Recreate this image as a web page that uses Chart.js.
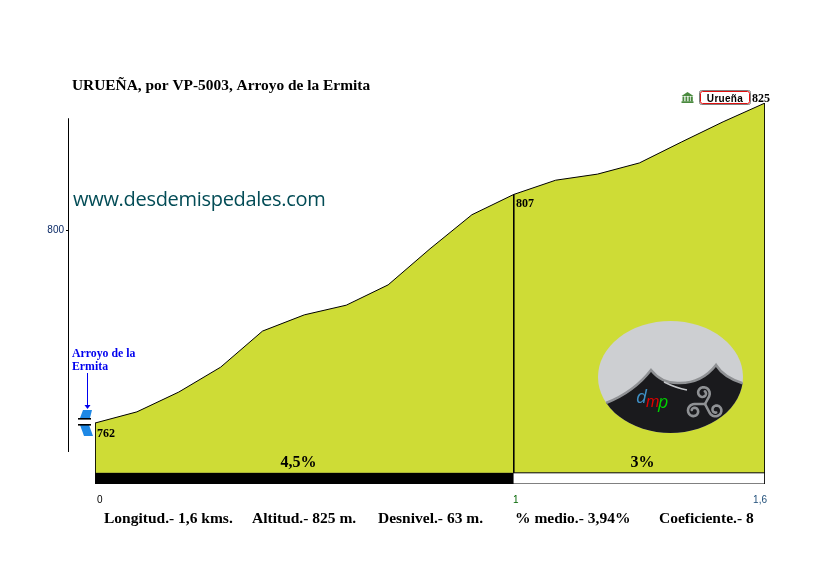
<!DOCTYPE html>
<html><head><meta charset="utf-8">
<style>html,body{margin:0;padding:0;background:#fff}#w{position:absolute;left:0;top:0;width:837px;height:566px}</style>
<script src="https://cdn.jsdelivr.net/npm/chart.js@4"></script>
</head><body><div id="w"><canvas id="c" width="837" height="566"></canvas></div>
<script>
const distances=[0,0.1,0.2,0.3,0.4,0.5,0.6,0.7,0.8,0.9,1,1.1,1.2,1.3,1.4,1.5,1.6];
const altitudes=[762,764.2,768.1,773,780.1,783.3,785.2,789.2,796.3,803,807,809.8,811,813.2,817.3,821.3,825];
const xTicks=[0,1,1.6];
const xTickColors=['#000000','#006400','#1f4e79'];
const yTicks=[800];
const sectionBreaks=[0,1,1.6];
const sectionLabels=['4,5%','3%'];
const altitudeLabels=['762','807','825'];
const footerLabels=['Longitud.- 1,6 kms.','Altitud.- 825 m.','Desnivel.- 63 m.','% medio.- 3,94%','Coeficiente.- 8'];
const titleText='URUEÑA, por VP-5003, Arroyo de la Ermita';
const siteText='www.desdemispedales.com';
const baseAlt=752.2, stripAlt=750, topAlt=825;
const axisFrom=756.3, axisTo=822;
const lime='#cedc36';
const pts=distances.map((x,i)=>({x,y:altitudes[i]}));
const seg=(x0,y0,x1,y1,c)=>({order:-1,data:[{x:x0,y:y0},{x:x1,y:y1}],borderColor:c||'#000',borderWidth:1,pointRadius:0,fill:false,tension:0});
const over={id:'over',afterDraw(ch){
 const c=ch.ctx,X=ch.scales.x,Y=ch.scales.y;
 const serif='"Liberation Serif"';
 const T=(s,x,y,f,col,al)=>{c.font=f;c.fillStyle=col||'#000';c.textAlign=al||'left';c.textBaseline='alphabetic';c.fillText(s,x,y);};
 c.save();
 c.strokeStyle='#000';c.lineWidth=1;c.beginPath();
 c.moveTo(68.5,Y.getPixelForValue(axisTo));c.lineTo(68.5,Y.getPixelForValue(axisFrom));
 const ty=Math.round(Y.getPixelForValue(yTicks[0]))+.5;
 c.moveTo(66,ty);c.lineTo(68,ty);c.stroke();
 T(titleText,72,90,'bold 15.4px '+serif);
 c.save();c.letterSpacing='-0.3px';T(siteText,73,206,'20px "Open Sans"','#034c56');c.restore();
 T(altitudeLabels[0],97,437,'bold 12px '+serif);
 T(altitudeLabels[1],516,207,'bold 12px '+serif);
 T(altitudeLabels[2],752,102,'bold 12px '+serif);
 for(let i=0;i<sectionLabels.length;i++){
  const mid=(X.getPixelForValue(sectionBreaks[i])+X.getPixelForValue(sectionBreaks[i+1]))/2;
  T(sectionLabels[i],mid+(i?3:-6),467,'bold 16px '+serif,'#000','center');
 }
 [104,252,378,515,659].forEach((x,i)=>T(footerLabels[i],x,523,'bold 15.5px '+serif));
 T('Arroyo de la',72,357,'bold 11.8px '+serif,'#0000ee');
 T('Ermita',72,370,'bold 11.8px '+serif,'#0000ee');
 c.strokeStyle='#0000ee';c.lineWidth=1;c.beginPath();c.moveTo(87.5,373);c.lineTo(87.5,406);c.stroke();
 c.fillStyle='#0000ee';c.beginPath();c.moveTo(84.5,405);c.lineTo(90.5,405);c.lineTo(87.5,409);c.fill();
 c.fillStyle='#1e88e5';
 c.beginPath();c.moveTo(83,410);c.lineTo(92,410);c.lineTo(90,418);c.lineTo(80,418);c.fill();
 c.beginPath();c.moveTo(80,425);c.lineTo(89,425);c.lineTo(93,436);c.lineTo(84,436);c.fill();
 c.fillStyle='#000';c.fillRect(78,418,13,1.6);c.fillRect(78,424,13,1.6);
 c.fillStyle='#4a8a3f';
 c.beginPath();c.moveTo(681.5,96);c.lineTo(687.5,92);c.lineTo(693.5,96);c.fill();
 [682.5,685.5,688.5,691].forEach(x=>c.fillRect(x,96.5,1.8,5));
 c.fillRect(681.5,101.3,12,1.7);
 c.strokeStyle='#808080';c.lineWidth=1;c.beginPath();c.roundRect(699.5,90.5,51,14,2);c.stroke();
 c.strokeStyle='#e01010';c.beginPath();c.roundRect(700.5,91.5,49,12,2);c.stroke();
 c.save();c.letterSpacing='0.3px';T('Urueña',725,101.5,'bold 10px "Liberation Sans"','#000','center');c.restore();
 c.save();
 c.beginPath();c.ellipse(670.5,377,72.5,56,0,0,Math.PI*2);c.fillStyle='#cdcfd2';c.fill();c.clip();
 c.beginPath();c.moveTo(590,407);c.lineTo(606,403);c.quadraticCurveTo(634,392,651,370);
 c.quadraticCurveTo(662,384,680,383);c.quadraticCurveTo(702,383,716,365);
 c.quadraticCurveTo(724,378,745,384);c.lineTo(750,440);c.lineTo(590,440);c.closePath();
 c.fillStyle='#1a1a1d';c.fill();c.strokeStyle='#8f9194';c.lineWidth=2.5;c.stroke();
 c.strokeStyle='#c4c6c9';c.lineWidth=1.5;c.beginPath();c.moveTo(664,382);c.quadraticCurveTo(676,388,687,390);c.stroke();
 c.textAlign='left';
 c.font='italic 19px "Open Sans"';c.fillStyle='#3f8fc4';c.fillText('d',636,403);
 c.font='italic 16px "Liberation Sans"';c.fillStyle='#e00000';c.fillText('m',646,407);
 c.font='italic 18px "Open Sans"';c.fillStyle='#00d000';c.fillText('p',658,408);
 c.strokeStyle='#8f9194';c.lineWidth=2.6;c.lineCap='round';c.lineJoin='round';
 const cx=705,cy=404;
 [[703,393],[694,411],[716,410]].forEach(([lx,ly])=>{
  const a0=Math.atan2(cy-ly,cx-lx)-0.9;
  c.beginPath();c.moveTo(cx,cy);
  for(let k=0;k<=24;k++){
   const t=k/24,a=a0-t*Math.PI*2.4,r=7-4.5*t;
   c.lineTo(lx+Math.cos(a)*r,ly+Math.sin(a)*r);
  }
  c.stroke();
 });
 c.restore();
 c.restore();
}};
new Chart(document.getElementById('c'),{
 type:'line',
 data:{datasets:[
  {data:pts,borderColor:'#000',borderWidth:1,backgroundColor:lime,pointRadius:0,tension:0,fill:{value:baseAlt}},
  {data:[{x:sectionBreaks[0],y:baseAlt},{x:sectionBreaks[1],y:baseAlt}],borderColor:'#000',borderWidth:1,backgroundColor:'#000',pointRadius:0,fill:{value:stripAlt}},
  seg(sectionBreaks[0],stripAlt,sectionBreaks[2],stripAlt),
  seg(sectionBreaks[1],baseAlt,sectionBreaks[2],baseAlt),
  seg(sectionBreaks[0],altitudes[0],sectionBreaks[0],stripAlt),
  seg(sectionBreaks[1],altitudes[10],sectionBreaks[1],baseAlt),
  seg(sectionBreaks[2],altitudes[16],sectionBreaks[2],stripAlt)
 ]},
 options:{
  responsive:false,animation:false,
  layout:{padding:{left:0,right:72,top:103,bottom:0}},
  plugins:{legend:{display:false},title:{display:false},tooltip:{enabled:false}},
  scales:{
   x:{type:'linear',min:0,max:1.6,
    grid:{display:false},border:{display:false},
    afterBuildTicks:s=>{s.ticks=xTicks.map(v=>({value:v}));},
    afterFit:s=>{s.height=82;},
    ticks:{autoSkip:false,maxRotation:0,minRotation:0,align:'inner',labelOffset:2,padding:2,
     font:{family:'"Liberation Sans"',size:10},
     color:ctx=>xTickColors[ctx.index],
     callback:v=>String(v).replace('.',',')}},
   y:{type:'linear',min:stripAlt,max:topAlt,
    grid:{display:false},border:{display:false},
    afterBuildTicks:s=>{s.ticks=yTicks.map(v=>({value:v}));},
    afterFit:s=>{s.width=95;},
    ticks:{padding:23,font:{family:'"Liberation Sans"',size:10},color:'#0b2a66'}}
  }
 },
 plugins:[over]
});
</script></body></html>
